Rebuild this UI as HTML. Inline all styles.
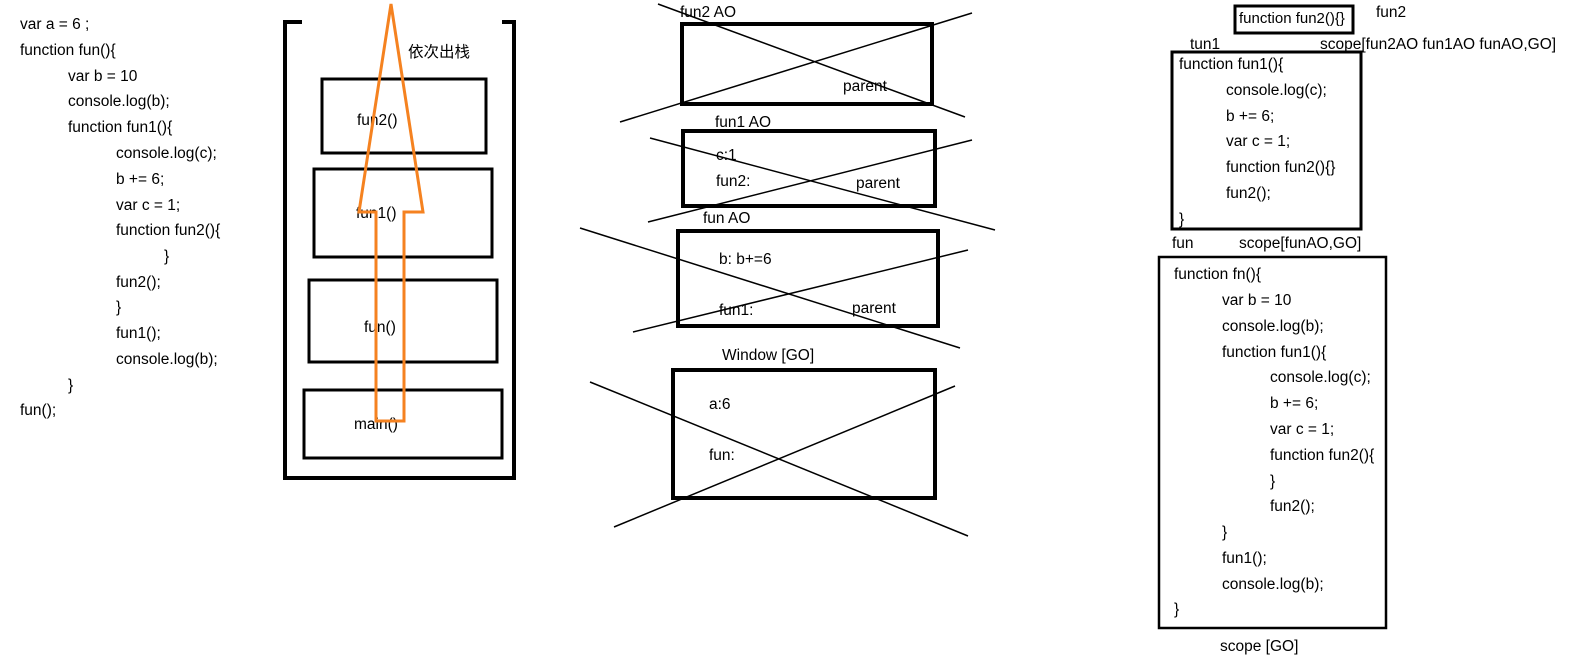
<!DOCTYPE html>
<html><head><meta charset="utf-8"><style>
html,body{margin:0;padding:0;background:#fff;}
svg text{font-family:"Liberation Sans","Noto Sans CJK SC",sans-serif;font-size:15.5px;fill:#000;dominant-baseline:middle;}
</style></head><body>
<svg width="1580" height="664" viewBox="0 0 1580 664" xmlns="http://www.w3.org/2000/svg">
<!-- left code -->
<text x="20" y="25">var a =  6 ;</text>
<text x="20" y="51">function fun(){</text>
<text x="68" y="77">var b = 10</text>
<text x="68" y="102">console.log(b);</text>
<text x="68" y="128">function fun1(){</text>
<text x="116" y="154">console.log(c);</text>
<text x="116" y="180">b += 6;</text>
<text x="116" y="206">var c = 1;</text>
<text x="116" y="231">function fun2(){</text>
<text x="164" y="257">}</text>
<text x="116" y="283">fun2();</text>
<text x="116" y="308">}</text>
<text x="116" y="334">fun1();</text>
<text x="116" y="360">console.log(b);</text>
<text x="68" y="386">}</text>
<text x="20" y="411">fun();</text>

<!-- stack -->
<g stroke="#000" fill="none">
<path d="M302 22 H285 V478 H514 V22 H502" stroke-width="4"/>
<rect x="322" y="79" width="164" height="74" stroke-width="3"/>
<rect x="314" y="169" width="178" height="88" stroke-width="3"/>
<rect x="309" y="280" width="188" height="82" stroke-width="3"/>
<rect x="304" y="390" width="198" height="68" stroke-width="3"/>
</g>
<text x="408" y="53">依次出栈</text>
<text x="357" y="121">fun2()</text>
<text x="356" y="214">fun1()</text>
<text x="364" y="328">fun()</text>
<text x="354" y="425">main()</text>
<polygon points="391,4 423,212 404,212 404,421 376,421 376,212 359,212" fill="none" stroke="#f58220" stroke-width="3"/>

<!-- center -->
<g stroke="#000" fill="none">
<rect x="682" y="24" width="250" height="80" stroke-width="4"/>
<line x1="658" y1="4" x2="965" y2="117" stroke-width="1.5"/>
<line x1="620" y1="122" x2="972" y2="13" stroke-width="1.5"/>
<rect x="683" y="131" width="252" height="75" stroke-width="4"/>
<line x1="650" y1="138" x2="995" y2="230" stroke-width="1.5"/>
<line x1="648" y1="222" x2="972" y2="140" stroke-width="1.5"/>
<rect x="678" y="231" width="260" height="95" stroke-width="4"/>
<line x1="580" y1="228" x2="960" y2="348" stroke-width="1.5"/>
<line x1="633" y1="332" x2="968" y2="250" stroke-width="1.5"/>
<rect x="673" y="370" width="262" height="128" stroke-width="4"/>
<line x1="590" y1="382" x2="968" y2="536" stroke-width="1.5"/>
<line x1="614" y1="527" x2="955" y2="386" stroke-width="1.5"/>
</g>
<text x="680" y="13">fun2 AO</text>
<text x="843" y="87">parent</text>
<text x="715" y="123">fun1 AO</text>
<text x="716" y="156">c:1</text>
<text x="716" y="182">fun2:</text>
<text x="856" y="184">parent</text>
<text x="703" y="219">fun AO</text>
<text x="719" y="260">b: b+=6</text>
<text x="719" y="311">fun1:</text>
<text x="852" y="309">parent</text>
<text x="722" y="356">Window [GO]</text>
<text x="709" y="405">a:6</text>
<text x="709" y="456">fun:</text>

<!-- right -->
<g stroke="#000" fill="none">
<rect x="1235" y="6" width="118" height="27" stroke-width="3"/>
<rect x="1172" y="52" width="189" height="177" stroke-width="3"/>
<rect x="1159" y="257" width="227" height="371" stroke-width="2.5"/>
</g>
<text x="1239" y="19" style="font-size:15px">function fun2(){}</text>
<text x="1376" y="13">fun2</text>
<text x="1190" y="45">tun1</text>
<text x="1320" y="45">scope[fun2AO fun1AO funAO,GO]</text>
<text x="1179" y="65">function fun1(){</text>
<text x="1226" y="91">console.log(c);</text>
<text x="1226" y="117">b += 6;</text>
<text x="1226" y="142">var c = 1;</text>
<text x="1226" y="168">function fun2(){}</text>
<text x="1226" y="194">fun2();</text>
<text x="1179" y="220">}</text>
<text x="1172" y="244">fun</text>
<text x="1239" y="244">scope[funAO,GO]</text>
<text x="1174" y="275">function fn(){</text>
<text x="1222" y="301">var b = 10</text>
<text x="1222" y="327">console.log(b);</text>
<text x="1222" y="353">function fun1(){</text>
<text x="1270" y="378">console.log(c);</text>
<text x="1270" y="404">b += 6;</text>
<text x="1270" y="430">var c = 1;</text>
<text x="1270" y="456">function fun2(){</text>
<text x="1270" y="482">}</text>
<text x="1270" y="507">fun2();</text>
<text x="1222" y="533">}</text>
<text x="1222" y="559">fun1();</text>
<text x="1222" y="585">console.log(b);</text>
<text x="1174" y="610">}</text>
<text x="1220" y="647">scope [GO]</text>
</svg>
</body></html>
